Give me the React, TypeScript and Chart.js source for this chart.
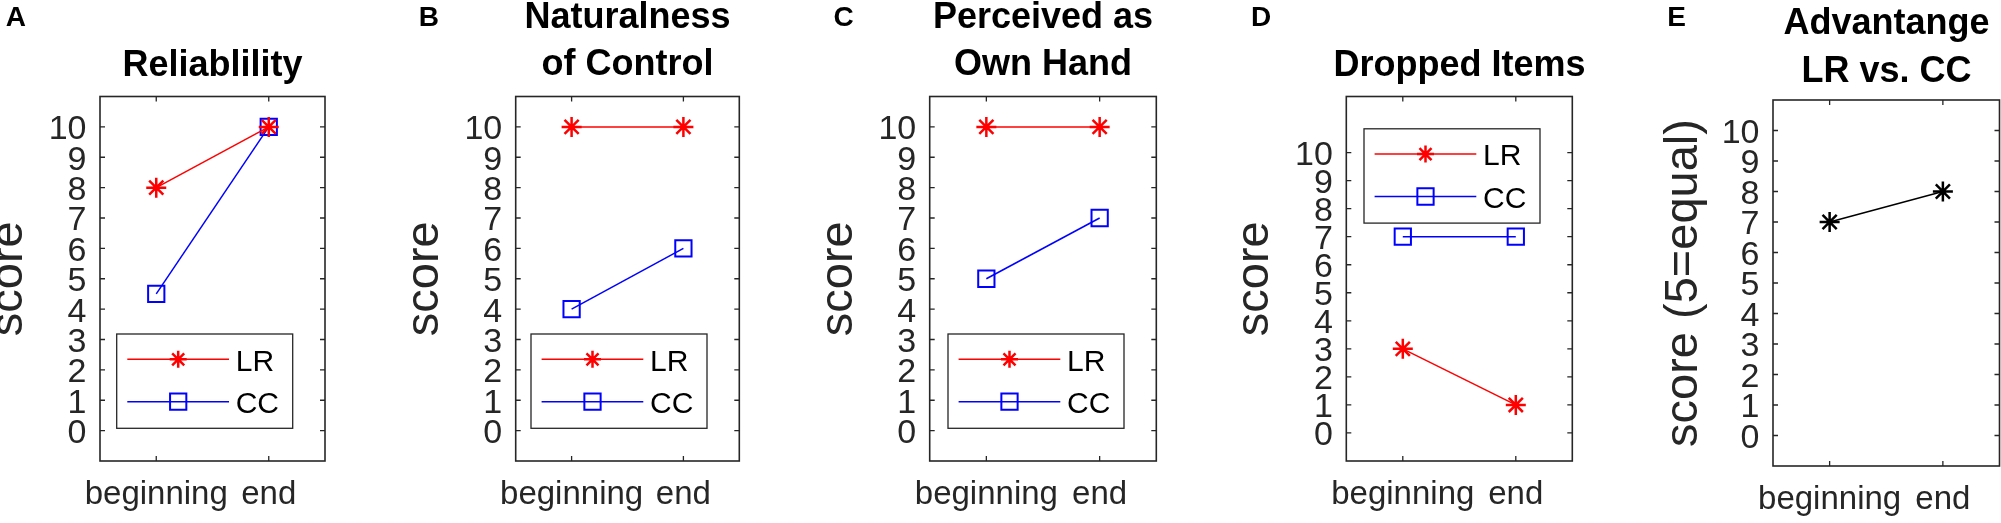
import React, { useEffect, useRef } from 'react';
import { Chart, registerables } from 'chart.js';
import { drawPoint } from 'chart.js/helpers';

Chart.register(...registerables);

const FONT = '"Liberation Sans", Arial, Helvetica, sans-serif';
const AXIS_COLOR = '#262626';
const PAGE_W = 2001;
const PAGE_H = 523;
// canvases start a bit above the page so the top title lines fit without negative padding
const LIFT = 20;

const phases = ['beginning', 'end'];
const scoreTicks = [0, 1, 2, 3, 4, 5, 6, 7, 8, 9, 10];

const reliabilityLR = [8, 10];
const reliabilityCC = [4.5, 10];
const naturalnessLR = [10, 10];
const naturalnessCC = [4, 6];
const ownHandLR = [10, 10];
const ownHandCC = [5, 7];
const droppedLR = [3, 1];
const droppedCC = [7, 7];
const advantage = [7, 8];

const seriesStyle: any = {
  LR: { color: '#ff0000', marker: 'star', radius: 10, stroke: 2.5 },
  CC: { color: '#0000ff', marker: 'rect', radius: 11.5, stroke: 2 },
  ADV: { color: '#000000', marker: 'star', radius: 10, stroke: 2.5 },
};

// box = [left, top, right, bottom] of the plot frame in page pixels
const panels: any[] = [
  {
    letter: 'A', title: ['Reliablility'], yLabel: 'score', yMax: 11,
    series: [['LR', reliabilityLR], ['CC', reliabilityCC]], legend: 'bottom',
    canvasLeft: -20, box: [100, 96.5, 325, 461], labelX: 9.3,
    titleCenters: [65.7], titleLead: 47, letterX: 15.8,
  },
  {
    letter: 'B', title: ['Naturalness', 'of Control'], yLabel: 'score', yMax: 11,
    series: [['LR', naturalnessLR], ['CC', naturalnessCC]], legend: 'bottom',
    canvasLeft: 380, box: [515.7, 96.5, 739.3, 461], labelX: 425,
    titleCenters: [18.3, 65], titleLead: 46.7, letterX: 428.8,
  },
  {
    letter: 'C', title: ['Perceived as', 'Own Hand'], yLabel: 'score', yMax: 11,
    series: [['LR', ownHandLR], ['CC', ownHandCC]], legend: 'bottom',
    canvasLeft: 790, box: [929.7, 96.5, 1156.3, 461], labelX: 839,
    titleCenters: [18.3, 65], titleLead: 46.7, letterX: 843.7,
  },
  {
    letter: 'D', title: ['Dropped Items'], yLabel: 'score', yMax: 12,
    series: [['LR', droppedLR], ['CC', droppedCC]], legend: 'top',
    canvasLeft: 1210, box: [1346.3, 96.5, 1572.3, 461], labelX: 1255,
    titleCenters: [66], titleLead: 47, letterX: 1261,
  },
  {
    letter: 'E', title: ['Advantange', 'LR vs. CC'], yLabel: 'score (5=equal)', yMax: 11,
    series: [['ADV', advantage]], legend: null,
    canvasLeft: 1620, box: [1773, 100, 1999.5, 466], labelX: 1683.6,
    titleCenters: [24, 72.5], titleLead: 48.5, letterX: 1676.7,
  },
];

// MATLAB-style frame with inward tick marks, plus the panel letter
const matlabAxes = {
  id: 'matlabAxes',
  afterDatasetsDraw(chart: any) {
    const { ctx, chartArea } = chart;
    const { left, top, right, bottom } = chartArea;
    const { x, y } = chart.scales;
    ctx.save();
    ctx.strokeStyle = AXIS_COLOR;
    ctx.lineWidth = 1.3;
    ctx.beginPath();
    x.ticks.forEach((_: any, i: number) => {
      const px = x.getPixelForTick(i);
      ctx.moveTo(px, bottom);
      ctx.lineTo(px, bottom - 5);
      ctx.moveTo(px, top);
      ctx.lineTo(px, top + 5);
    });
    y.ticks.forEach((_: any, i: number) => {
      const py = y.getPixelForTick(i);
      ctx.moveTo(left, py);
      ctx.lineTo(left + 5, py);
      ctx.moveTo(right, py);
      ctx.lineTo(right - 5, py);
    });
    ctx.stroke();
    ctx.lineWidth = 1.6;
    ctx.strokeRect(left, top, right - left, bottom - top);
    ctx.restore();
  },
  afterDraw(chart: any, _args: any, opts: any) {
    if (!opts || !opts.letter) return;
    const { ctx } = chart;
    ctx.save();
    ctx.fillStyle = '#000';
    ctx.font = `bold 28px ${FONT}`;
    ctx.textAlign = 'center';
    ctx.textBaseline = 'middle';
    ctx.fillText(opts.letter, opts.letterX, opts.letterY);
    ctx.restore();
  },
};

// legend box drawn inside the plot frame, like MATLAB's
const insetLegend = {
  id: 'insetLegend',
  afterDraw(chart: any, _args: any, opts: any) {
    if (!opts || !opts.anchor) return;
    const { ctx, chartArea } = chart;
    const w = 176;
    const h = 94.3;
    const x0 = chartArea.right - 32.3 - w;
    const y0 = opts.anchor === 'top' ? chartArea.top + 32.3 : chartArea.bottom - 32.7 - h;
    ctx.save();
    ctx.fillStyle = '#ffffff';
    ctx.fillRect(x0, y0, w, h);
    ctx.strokeStyle = AXIS_COLOR;
    ctx.lineWidth = 1.3;
    ctx.strokeRect(x0, y0, w, h);
    chart.data.datasets.forEach((ds: any, i: number) => {
      const cy = y0 + 25.3 + i * 42.4;
      ctx.strokeStyle = ds.borderColor;
      ctx.lineWidth = ds.borderWidth;
      ctx.beginPath();
      ctx.moveTo(x0 + 10.6, cy);
      ctx.lineTo(x0 + 112.3, cy);
      ctx.stroke();
      ctx.lineWidth = ds.pointBorderWidth;
      ctx.fillStyle = 'rgba(0,0,0,0)';
      const radius = ds.pointStyle === 'star' ? 8.5 : ds.pointRadius;
      drawPoint(ctx, { pointStyle: ds.pointStyle, rotation: 0, radius, borderWidth: ds.pointBorderWidth }, x0 + 61.5, cy);
      ctx.fillStyle = '#000';
      ctx.font = `30px ${FONT}`;
      ctx.textAlign = 'left';
      ctx.textBaseline = 'middle';
      ctx.fillText(ds.label, x0 + 119, cy + 3);
    });
    ctx.restore();
  },
};

function Panel({ cfg }: any) {
  const canvasRef = useRef<HTMLCanvasElement>(null);
  const chartRef = useRef<any>(null);

  const [boxL, boxT, boxR, boxB] = cfg.box;
  const width = Math.round(boxL + boxR - 2 * cfg.canvasLeft);
  const height = PAGE_H + LIFT;
  const leftW = boxL - cfg.canvasLeft;
  const rightW = width - (boxR - cfg.canvasLeft);

  useEffect(() => {
    const ctx = canvasRef.current!.getContext('2d');

    if (chartRef.current) {
      chartRef.current.destroy();
    }

    const lead = cfg.titleLead;
    const titleTop = cfg.titleCenters[0] + LIFT - lead / 2;
    const titleBottom = boxT + LIFT - cfg.title.length * lead - titleTop;

    const datasets = cfg.series.map(([name, values]: any) => {
      const s = seriesStyle[name];
      return {
        label: name,
        data: values,
        yAxisID: 'y',
        borderColor: s.color,
        backgroundColor: s.color,
        borderWidth: 1.5,
        pointStyle: s.marker,
        pointRadius: s.radius,
        pointHoverRadius: s.radius,
        pointBorderWidth: s.stroke,
        pointBorderColor: s.color,
        pointBackgroundColor: 'rgba(0,0,0,0)',
        tension: 0,
        fill: false,
        clip: false,
      };
    });

    chartRef.current = new Chart(ctx as any, {
      type: 'line',
      data: { labels: phases, datasets },
      plugins: [matlabAxes, insetLegend],
      options: {
        animation: false,
        responsive: false,
        events: [],
        layout: { padding: 0 },
        plugins: {
          legend: { display: false },
          tooltip: { enabled: false },
          title: {
            display: true,
            text: cfg.title,
            color: '#000',
            font: { family: FONT, size: 36, weight: 'bold', lineHeight: `${lead}px` },
            padding: { top: titleTop, bottom: titleBottom },
          },
          matlabAxes: { letter: cfg.letter, letterX: cfg.letterX - cfg.canvasLeft, letterY: 18 + LIFT },
          insetLegend: { anchor: cfg.legend },
        } as any,
        scales: {
          x: {
            type: 'category',
            offset: true,
            grid: { display: false, drawTicks: false, offset: false },
            border: { display: false },
            ticks: {
              autoSkip: false,
              maxRotation: 0,
              minRotation: 0,
              padding: 14.5,
              color: AXIS_COLOR,
              font: { family: FONT, size: 33 },
            },
            afterFit: (scale: any) => {
              scale.height = PAGE_H - boxB;
            },
          },
          y: {
            type: 'linear',
            position: 'left',
            min: -1,
            max: cfg.yMax,
            afterBuildTicks: (scale: any) => {
              scale.ticks = scoreTicks.map((v) => ({ value: v }));
            },
            grid: { display: false, drawTicks: false },
            border: { display: false },
            ticks: {
              autoSkip: false,
              padding: 13.5,
              labelOffset: 3,
              color: AXIS_COLOR,
              font: { family: FONT, size: 34 },
            },
            title: {
              display: true,
              text: cfg.yLabel,
              color: AXIS_COLOR,
              font: { family: FONT, size: 47, lineHeight: '10px' },
              padding: { top: cfg.labelX - cfg.canvasLeft - 5, bottom: 0 },
            },
            afterFit: (scale: any) => {
              scale.width = leftW;
            },
          },
          // empty right-hand axis, keeps the frame centred under the title
          yPad: {
            type: 'linear',
            position: 'right',
            display: true,
            grid: { display: false, drawTicks: false },
            border: { display: false },
            ticks: { display: false },
            afterFit: (scale: any) => {
              scale.width = rightW;
            },
          },
        } as any,
      },
    });

    return () => {
      if (chartRef.current) {
        chartRef.current.destroy();
        chartRef.current = null;
      }
    };
  }, [cfg]);

  return (
    <canvas
      ref={canvasRef}
      width={width}
      height={height}
      style={{ position: 'absolute', left: cfg.canvasLeft, top: -LIFT, width, height }}
    />
  );
}

export default function App() {
  return (
    <div
      style={{
        position: 'absolute',
        left: 0,
        top: 0,
        width: PAGE_W,
        height: PAGE_H,
        overflow: 'hidden',
        background: '#ffffff',
      }}
    >
      {panels.map((p) => (
        <Panel key={p.letter} cfg={p} />
      ))}
    </div>
  );
}
